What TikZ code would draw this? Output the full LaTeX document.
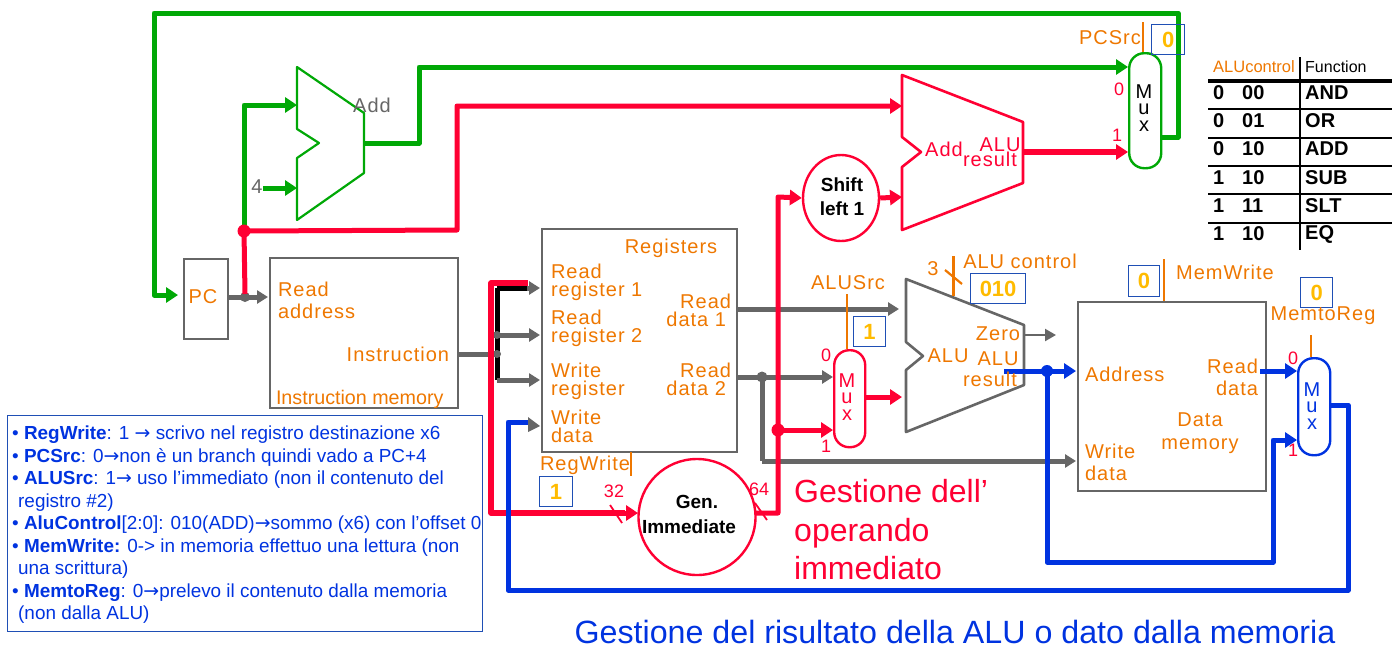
\documentclass[tikz,border=0pt]{standalone}
\usepackage{fontspec}
\setmainfont{Liberation Sans}
\newfontfamily\lsf[LetterSpace=5]{Liberation Sans}
\newfontfamily\djv{DejaVu Sans}
\newcommand{\rarr}{{\djv →}}
\usetikzlibrary{arrows.meta,shapes.geometric}
\definecolor{cgreen}{HTML}{00A806}
\definecolor{cred}{HTML}{FF0033}
\definecolor{cblue}{HTML}{0033E0}
\definecolor{corange}{HTML}{EE7700}
\definecolor{cgrey}{HTML}{666666}
\definecolor{cyel}{HTML}{FFBB00}
\definecolor{cbox}{HTML}{1F4FB5}
\tikzset{
  lab/.style={inner sep=0pt,outer sep=0pt,text=corange,font=\lsf\fontsize{20}{18}\selectfont,align=left},
  labl/.style={lab,anchor=west},
  redlab/.style={inner sep=0pt,text=cred,font=\fontsize{18}{16}\selectfont,align=center},
  blockbox/.style={draw=cgrey,line width=2.4pt,inner sep=0pt,anchor=north west},
  muxbox/.style={line width=2.4pt,rounded corners=15pt,inner sep=0pt,anchor=north west},
  muxtext/.style={inner sep=0pt,align=center,font=\fontsize{20}{16.5}\selectfont},
  valbox/.style={draw=cbox,line width=1.2pt,inner sep=0pt,anchor=north west,text=cyel,font=\bfseries\fontsize{22}{22}\selectfont},
  wire/.style={line width=5pt,line join=round},
  arr/.style={wire,-{Triangle[length=12pt,width=15pt]}},
  thinarr/.style={line width=2.2pt,-{Triangle[length=11pt,width=12pt]}},
  greyarr/.style={draw=cgrey,line width=5pt,-{Triangle[length=11pt,width=13pt]}},
  tb/.style={inner sep=0pt,font=\fontsize{20}{20}\bfseries\selectfont,anchor=west},
}
\begin{document}
\begin{tikzpicture}[x=1pt,y=-1pt]
\useasboundingbox (0,0) rectangle (1399,646);
% blocks
\node[blockbox,minimum width=44pt,minimum height=80pt] (pc) at (183,258) {};
\node[blockbox,minimum width=188pt,minimum height=150pt] (imem) at (269,257) {};
\node[blockbox,minimum width=195pt,minimum height=223pt] (regs) at (541,228) {};
\node[blockbox,minimum width=188pt,minimum height=189pt] (dmem) at (1077,301) {};
\node[draw=cred,line width=2.4pt,ellipse,minimum width=117pt,minimum height=116pt,inner sep=0pt] (gen) at (697,517) {};
\node[draw=cred,line width=2.4pt,ellipse,minimum width=76pt,minimum height=86pt,inner sep=0pt] (shift) at (841,198) {};
\node[muxbox,draw=cgreen,minimum width=32pt,minimum height=115pt] (muxpc) at (1128,52) {};
\node[muxbox,draw=cred,minimum width=31pt,minimum height=97pt] (muxalu) at (833,349) {};
\node[muxbox,draw=cblue,minimum width=32pt,minimum height=97pt] (muxmem) at (1297,357) {};
\node[muxtext] (mtpc) at (1144,108) {M\\u\\x};
\node[muxtext,text=cred] (mtalu) at (847,397) {M\\u\\x};
\node[muxtext,text=cblue] (mtmem) at (1312,406) {M\\u\\x};
% adders / ALU polygons
\draw[cgreen,line width=2.2pt,line join=round] (297,67) -- (364,113) -- (364,173) -- (297,220) -- (297,158) -- (319,143) -- (297,129) -- cycle;
\draw[cred,line width=2.6pt,line join=round] (902,75) -- (1023,122) -- (1023,183) -- (902,230) -- (902,167) -- (921,152) -- (902,137) -- cycle;
\draw[cgrey,line width=2.6pt,line join=round] (906,279) -- (1024,325) -- (1024,385) -- (906,432) -- (906,370) -- (923,356) -- (906,342) -- cycle;
% port coordinates
\coordinate (pcin) at (178,295);
\coordinate (pcout) at (227,297);
\coordinate (imin) at (268,297);
\coordinate (pcdot) at (245,297);
\coordinate (fork) at (244,231);
\coordinate (addA) at (297,105);
\coordinate (addB) at (297,188);
\coordinate (four) at (263,188);
\coordinate (addO) at (364,143);
\coordinate (mux0) at (1128,67);
\coordinate (mux1) at (1128,152);
\coordinate (muxO) at (1160,137);
\coordinate (raddA) at (902,106);
\coordinate (raddB) at (902,197);
\coordinate (raddO) at (1023,152);
\coordinate (instr) at (457,354);
\coordinate (rr1) at (540,286);
\coordinate (rr2) at (540,335);
\coordinate (wr) at (540,380);
\coordinate (wd) at (540,426);
\coordinate (busb) at (497,354);
\coordinate (genin) at (638,513);
\coordinate (genout) at (755,513);
\coordinate (rd1) at (736,309);
\coordinate (rd2) at (736,377);
\coordinate (rd2dot) at (762,377);
\coordinate (aluA) at (899,309);
\coordinate (alumux0) at (833,377);
\coordinate (alumux1) at (833,430);
\coordinate (imdot) at (778,430);
\coordinate (alumuxO) at (864,397);
\coordinate (aluB) at (902,397);
\coordinate (zero) at (1025,335);
\coordinate (zeroE) at (1056,335);
\coordinate (alures) at (1004,371);
\coordinate (daddr) at (1076,371);
\coordinate (adot) at (1047,371);
\coordinate (dwd) at (1076,461);
\coordinate (drd) at (1260,371);
\coordinate (mm0) at (1297,371);
\coordinate (mm1) at (1297,440);
\coordinate (mmO) at (1329,405);
% grey wires
\draw[greyarr] (pcout) -- (imin);
\fill[cgrey] (pcdot) circle (5pt);
\draw[cgrey,wire] (instr) -- (busb);
\draw[black,wire] (497,288) -- (497,380);
\draw[greyarr] (497,288) -- (rr1 |- 0,288);
\draw[black,wire] (497,288) -- (527,288);
\draw[greyarr] (497,335) -- (rr2);
\draw[greyarr] (497,380) -- (wr);
\fill[cgrey] (busb) circle (4pt);
\fill[cgrey] (497,335) circle (4pt);
\draw[greyarr] (rd1) -- (aluA);
\draw[greyarr] (rd2) -- (alumux0);
\draw[cgrey,wire] (rd2dot) -- (rd2dot |- dwd) coordinate (bend);
\draw[greyarr,line join=round] (bend) -- (dwd);
\fill[cgrey] (rd2dot) circle (5.5pt);
\draw[cgrey,thinarr] (zero) -- (zeroE);
% green wires
\draw[cgreen,arr] (muxO) -- (1178,137) -- (1178,13) -- (154,13) -- (154,295) -- (pcin);
\draw[cgreen,arr] (fork) -- (244,105) -- (addA);
\draw[cgreen,arr] (four) -- (addB);
\draw[cgreen,arr] (addO) -- (419,143) -- (419,67) -- (mux0);
% red wires
\draw[cred,wire] (fork) -- (pcdot |- 0,294);
\draw[cred,arr] (fork) -- (457,230) -- (457,106) -- (raddA);
\fill[cred] (fork) circle (6.5pt);
\draw[cred,line width=5.5pt,line join=round] (528,283) -- (491,283) -- (491,513) -- (625,513);
\draw[cred,arr] (620,513) -- (genin);
\draw[cred,arr] (genout) -- (778,513) -- (778,197) -- (shift.west);
\draw[cred,arr] (imdot) -- (alumux1);
\fill[cred] (imdot) circle (6.5pt);
\draw[cred,arr] (shift.east) -- (raddB);
\draw[cred,arr,line width=6pt] (raddO) -- (mux1);
\draw[cred,arr] (alumuxO) -- (aluB);
\draw[cred,line width=1.8pt] (610,505) -- (622,523);
\draw[cred,line width=1.8pt] (755,503) -- (767,520);
% blue wires
\draw[cblue,arr] (alures) -- (daddr);
\fill[cblue] (adot) circle (6pt);
\draw[cblue,arr] (adot) -- (1047,562) -- (1273,562) -- (1273,440) -- (mm1);
\draw[cblue,arr] (drd) -- (mm0);
\draw[cblue,wire] (mmO) -- (1348,405) -- (1348,590) -- (508,590) -- (508,422) -- (530,422);
\fill[cgrey] (528,417) -- (wd) -- (528,432) -- cycle;
% orange control lines
\draw[corange,line width=2.2pt] (1143,22) -- (1143,52);
\draw[corange,line width=2.2pt] (847,294) -- (847,349);
\draw[corange,line width=2.2pt] (1311,335) -- (1311,357);
\draw[corange,line width=2.2pt] (1164,259) -- (1164,301);
\draw[corange,line width=2.2pt] (631,452) -- (631,476);
\draw[corange,line width=3pt] (953,256) -- (953,296);
\draw[corange,line width=2.2pt] (945,270) -- (962,284);
% value boxes
\node[valbox,minimum width=33pt,minimum height=30pt] (vpcsrc) at (1151,24) {0};
\node[valbox,minimum width=55pt,minimum height=30pt] (valuc) at (970,273) {010};
\node[valbox,minimum width=32pt,minimum height=30pt] (valusrc) at (853,316) {1};
\node[valbox,minimum width=31pt,minimum height=31pt] (vmemw) at (1128,265) {0};
\node[valbox,minimum width=32pt,minimum height=30pt] (vmemr) at (1300,277) {0};
\node[valbox,minimum width=33pt,minimum height=30pt] (vregw) at (539,476) {1};
% orange labels
\node[lab] (tpc) at (203,297) {PC};
\node[labl] (tra) at (278,300) {Read\\[4pt]address};
\node[lab,anchor=east] (tins) at (449,354) {Instruction};
\node[labl,font=\fontsize{19.7}{18}\selectfont] (timem) at (276,399) {Instruction memory};
\node[lab] (tregs) at (671,248) {Registers};
\node[labl] (trr1) at (551,282) {Read\\register 1};
\node[labl] (trr2) at (551,328) {Read\\register 2};
\node[labl] (twr) at (551,381) {Write\\register};
\node[labl] (twd) at (551,426) {Write\\data};
\node[lab,align=right,anchor=east] (trd1) at (731,310) {Read\\data 1\hspace*{5pt}};
\node[lab,align=right,anchor=east] (trd2) at (731,379) {Read\\data 2\hspace*{5pt}};
\node[lab] (tregw) at (585,465) {RegWrite};
\node[lab] (talusrc) at (848,283) {ALUSrc};
\node[lab] (taluc) at (1020,261) {ALU control};
\node[lab] (tthree) at (933,269) {3};
\node[lab] (tmemw) at (1225,272) {MemWrite};
\node[lab] (tmemr) at (1323,316) {MemtoReg};
\node[lab] (tpcsrc) at (1110,38) {PCSrc};
\node[lab] (talu) at (948,356) {ALU};
\node[lab] (tzero) at (998,334) {Zero};
\node[lab,align=center] (tres) at (990,369) {\hspace*{16pt}ALU\\[3pt]result};
\node[labl] (tadr) at (1085,374) {Address};
\node[labl] (tdwd) at (1085,462) {Write\\[4pt]data};
\node[lab,align=right,anchor=east] (tdrd) at (1258,377) {Read\\[4pt]data};
\node[lab,align=center] (tdm) at (1200,433) {Data\\[5pt]memory};
% grey labels
\node[lab,text=cgrey] (tadd) at (372,105) {Add};
\node[lab,text=cgrey] (tfour) at (257,187) {4};
% red labels
\node[lab,text=cred] (tradd) at (944,149) {Add};
\node[lab,text=cred,align=center] (trres) at (990,152) {\hspace*{20pt}ALU\\[-3pt]result};
\node[redlab] (z1) at (1119,89) {0};
\node[redlab] (o1) at (1117,135) {1};
\node[redlab] (z2) at (826,355) {0};
\node[redlab] (o2) at (826,446) {1};
\node[redlab] (z3) at (1293,358) {0};
\node[redlab] (o3) at (1293,450) {1};
\node[redlab] (t32) at (614,491) {32};
\node[redlab] (t64) at (759,489) {64};
% ellipse texts
\node[inner sep=0pt,font=\bfseries\fontsize{19}{25}\selectfont,align=center] (tgen) at (689,514) {\hspace*{16pt}Gen.\\Immediate};
\node[inner sep=0pt,font=\bfseries\fontsize{19}{24}\selectfont,align=center] (tshift) at (842,197) {Shift\\left 1};
% big texts
\node[inner sep=0pt,anchor=west,text=cred,font=\fontsize{32}{38.5}\selectfont,align=left] (tgest) at (794,530) {Gestione dell’\\operando\\immediato};
\node[inner sep=0pt,text=cblue,font=\fontsize{32.2}{36}\selectfont] (tris) at (955,632) {Gestione del risultato della ALU o dato dalla memoria};
% table
\node[inner sep=0pt,anchor=west,text=corange,font=\fontsize{16.5}{15}\selectfont] (thA) at (1213,67) {ALUcontrol};
\node[inner sep=0pt,anchor=west,font=\fontsize{16}{15}\selectfont] (thF) at (1305,67) {Function};
\draw[black,line width=1.5pt] (1300,57) -- (1300,250);
\draw[black,line width=3.2pt] (1208,81) -- (1392,81);
\foreach \y in {109,138,166,194,223} \draw[black,line width=1.6pt] (1208,\y) -- (1392,\y);
\node[tb] (r1a) at (1213,93) {0}; \node[tb] (r1b) at (1242,93) {00}; \node[tb] (r1c) at (1305,93) {AND};
\node[tb] (r2a) at (1213,121) {0}; \node[tb] (r2b) at (1242,121) {01}; \node[tb] (r2c) at (1305,121) {OR};
\node[tb] (r3a) at (1213,149) {0}; \node[tb] (r3b) at (1242,149) {10}; \node[tb] (r3c) at (1305,149) {ADD};
\node[tb] (r4a) at (1213,178) {1}; \node[tb] (r4b) at (1242,178) {10}; \node[tb] (r4c) at (1305,178) {SUB};
\node[tb] (r5a) at (1213,206) {1}; \node[tb] (r5b) at (1242,206) {11}; \node[tb] (r5c) at (1305,206) {SLT};
\node[tb] (r6a) at (1213,234) {1}; \node[tb] (r6b) at (1242,234) {10}; \node[tb] (r6c) at (1305,234) {EQ};
% legend
\node[draw=cbox,line width=1.2pt,anchor=north west,minimum width=475pt,minimum height=216pt,inner sep=0pt] (legend) at (7,415) {};
\node[inner sep=0pt,anchor=north west,text=cblue,font=\fontsize{18.9}{22.5}\selectfont,align=left] (legtxt) at (12,426) {%
• \textbf{RegWrite}: 1 \rarr{} scrivo nel registro destinazione x6\\
• \textbf{PCSrc}: 0\rarr{}non è un branch quindi vado a PC+4\\
• \textbf{ALUSrc}: 1\rarr{} uso l’immediato (non il contenuto del\\
\hspace*{6pt}registro \#2)\\
• \textbf{AluControl}[2:0]: 010(ADD)\rarr{}sommo (x6) con l’offset 0\\
• \textbf{MemWrite:} 0-> in memoria effettuo una lettura (non\\
\hspace*{6pt}una scrittura)\\
• \textbf{MemtoReg}: 0\rarr{}prelevo il contenuto dalla memoria\\
\hspace*{6pt}(non dalla ALU)};
\end{tikzpicture}
\end{document}
